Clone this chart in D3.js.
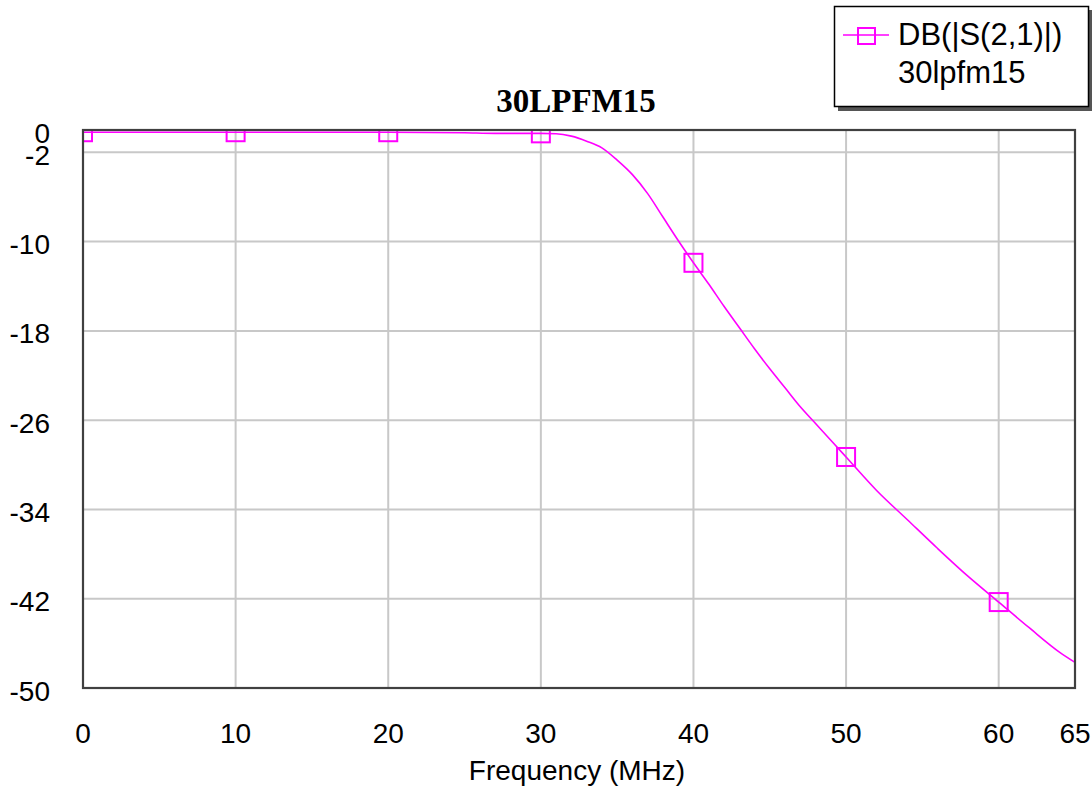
<!DOCTYPE html>
<html>
<head>
<meta charset="utf-8">
<script src="https://cdn.jsdelivr.net/npm/d3@7"></script>
<style>
  body { margin: 0; background: #fff; }
  svg { display: block; }
</style>
</head>
<body>
<script>
// values (frequency in MHz, insertion loss in dB)
const freqMHz = [0, 5, 10, 15, 20, 25, 27, 29, 30, 31, 32, 33, 34, 35, 36, 37, 38, 39, 40,
  41, 42, 43, 44, 45, 46, 47, 48, 49, 50, 52, 54, 56, 58, 60, 62, 64, 65];
const s21dB = [-0.2, -0.2, -0.2, -0.2, -0.2, -0.25, -0.3, -0.3, -0.3, -0.33, -0.55, -1.0, -1.6, -2.7, -4.0, -5.7, -7.8, -9.9, -11.9,
  -13.8, -15.8, -17.7, -19.6, -21.4, -23.1, -24.8, -26.3, -27.8, -29.3, -32.3, -34.9, -37.5, -40.0, -42.3, -44.6, -46.8, -47.7];
const markerFreqs = [0, 10, 20, 30, 40, 50, 60];
const xTicks = [0, 10, 20, 30, 40, 50, 60, 65];
const yTicks = [0, -2, -10, -18, -26, -34, -42, -50];
const chartTitle = '30LPFM15';
const xTitle = 'Frequency (MHz)';
const legendLines = ['DB(|S(2,1)|)', '30lpfm15'];

(function () {
  let width = 1092;
  let height = 787;
  //plot area edges in px
  let plotLeft = 83, plotTop = 130, plotRight = 1075, plotBottom = 688;

  let data = freqMHz.map((f, i) => ({ f: f, db: s21dB[i] }));
  let markers = data.filter(d => markerFreqs.includes(d.f));

  let xScale = d3.scaleLinear().domain([0, 65]).range([plotLeft, plotRight]);
  let yScale = d3.scaleLinear().domain([-50, 0]).range([plotBottom, plotTop]);

  let svg = d3.select('body')
    .append('svg')
    .attr('width', width)
    .attr('height', height);

  const magenta = '#ff00ff';
  const sans = 'Liberation Sans, Arial, sans-serif';

  //clip marks to plot area
  svg.append('clipPath')
    .attr('id', 'plotClip')
    .append('rect')
    .attr('x', plotLeft)
    .attr('y', plotTop)
    .attr('width', plotRight - plotLeft)
    .attr('height', plotBottom - plotTop);

  //grid lines (inner ticks only, the edges are the frame)
  let grid = svg.append('g').attr('stroke', '#c8c8c8').attr('stroke-width', 2);
  grid.selectAll('line.v')
    .data(xTicks.filter(t => t > 0 && t < 65))
    .join('line')
    .attr('class', 'v')
    .attr('x1', d => xScale(d)).attr('x2', d => xScale(d))
    .attr('y1', plotTop).attr('y2', plotBottom);
  grid.selectAll('line.h')
    .data(yTicks.filter(t => t < 0 && t > -50))
    .join('line')
    .attr('class', 'h')
    .attr('x1', plotLeft).attr('x2', plotRight)
    .attr('y1', d => yScale(d)).attr('y2', d => yScale(d));

  //curve and markers
  let plot = svg.append('g').attr('clip-path', 'url(#plotClip)');
  let line = d3.line()
    .x(d => xScale(d.f))
    .y(d => yScale(d.db))
    .curve(d3.curveMonotoneX);
  plot.append('path')
    .datum(data)
    .attr('d', line)
    .attr('fill', 'none')
    .attr('stroke', magenta)
    .attr('stroke-width', 1.6);

  let ms = 18;
  plot.selectAll('rect.marker')
    .data(markers)
    .join('rect')
    .attr('class', 'marker')
    .attr('x', d => xScale(d.f) - ms / 2)
    .attr('y', d => yScale(d.db) - ms / 2)
    .attr('width', ms)
    .attr('height', ms)
    .attr('fill', 'none')
    .attr('stroke', magenta)
    .attr('stroke-width', 2);

  //frame
  svg.append('rect')
    .attr('x', plotLeft).attr('y', plotTop)
    .attr('width', plotRight - plotLeft).attr('height', plotBottom - plotTop)
    .attr('fill', 'none')
    .attr('stroke', '#404040')
    .attr('stroke-width', 2.2);

  //y tick labels
  svg.append('g')
    .selectAll('text')
    .data(yTicks)
    .join('text')
    .attr('x', 50)
    .attr('y', d => yScale(d) + 12.5)
    .attr('text-anchor', 'end')
    .attr('font-family', sans)
    .attr('font-size', 28)
    .attr('fill', '#000')
    .text(d => d);

  //x tick labels
  svg.append('g')
    .selectAll('text')
    .data(xTicks)
    .join('text')
    .attr('x', d => xScale(d))
    .attr('y', 743)
    .attr('text-anchor', 'middle')
    .attr('font-family', sans)
    .attr('font-size', 28)
    .attr('fill', '#000')
    .text(d => d);

  //x axis title
  svg.append('text')
    .attr('x', (plotLeft + plotRight) / 2 - 2)
    .attr('y', 780)
    .attr('text-anchor', 'middle')
    .attr('font-family', sans)
    .attr('font-size', 28)
    .text(xTitle);

  //chart title
  svg.append('text')
    .attr('x', 576)
    .attr('y', 112)
    .attr('text-anchor', 'middle')
    .attr('font-family', 'Liberation Serif, Times New Roman, serif')
    .attr('font-weight', 'bold')
    .attr('font-size', 33)
    .text(chartTitle);

  //legend with drop shadow
  let legend = svg.append('g');
  legend.append('rect')
    .attr('x', 838).attr('y', 10)
    .attr('width', 255).attr('height', 101)
    .attr('fill', '#555');
  legend.append('rect')
    .attr('x', 834.5).attr('y', 6.5)
    .attr('width', 254).attr('height', 100)
    .attr('fill', '#fff')
    .attr('stroke', '#000')
    .attr('stroke-width', 1.5);
  legend.append('line')
    .attr('x1', 843).attr('x2', 889)
    .attr('y1', 35).attr('y2', 35)
    .attr('stroke', magenta)
    .attr('stroke-width', 1.6);
  legend.append('rect')
    .attr('x', 858).attr('y', 28)
    .attr('width', 17).attr('height', 16)
    .attr('fill', 'none')
    .attr('stroke', magenta)
    .attr('stroke-width', 2);
  legend.selectAll('text')
    .data(legendLines)
    .join('text')
    .attr('x', 898)
    .attr('y', (d, i) => i === 0 ? 45 : 83)
    .attr('font-family', sans)
    .attr('font-size', 31)
    .text(d => d);
})();
</script>
</body>
</html>
